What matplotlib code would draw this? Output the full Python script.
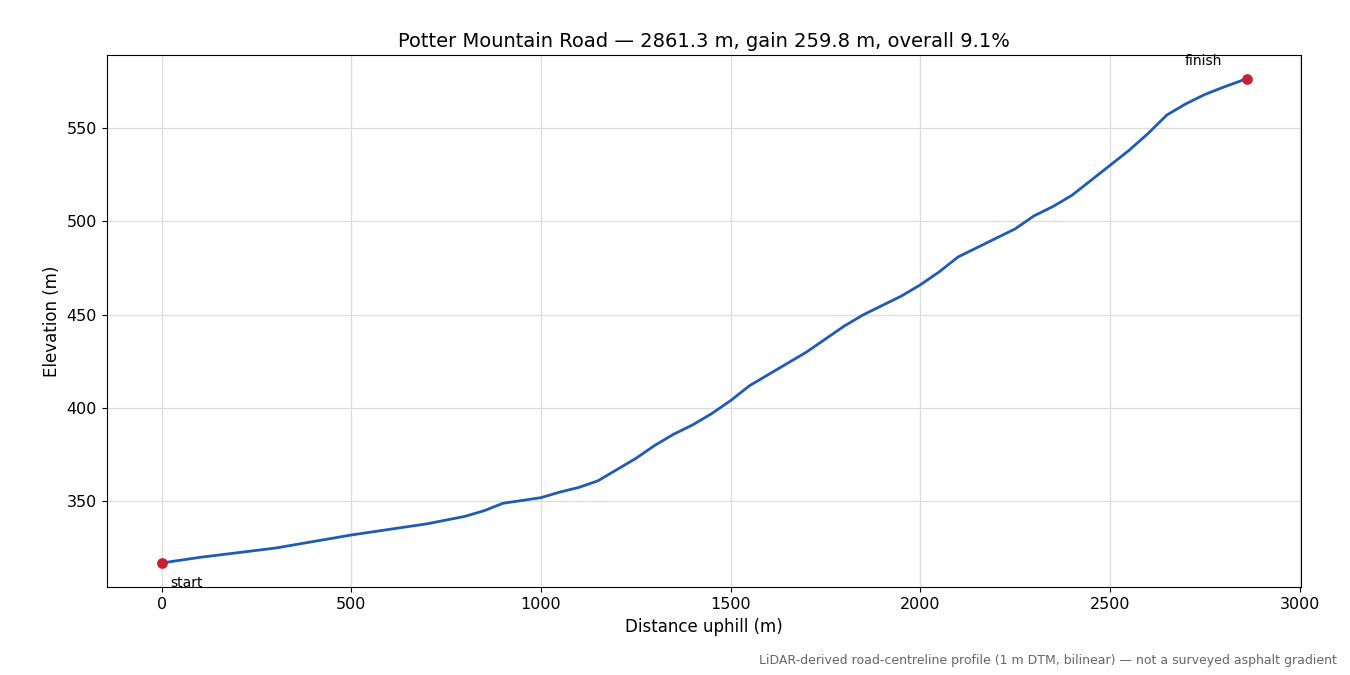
import matplotlib.pyplot as plt
import numpy as np

# profile
dist = [0, 100, 200, 300, 400, 500, 600, 700, 800, 850, 900, 950, 1000, 1050,
        1100, 1150, 1200, 1250, 1300, 1350, 1400, 1450, 1500, 1550, 1600, 1650,
        1700, 1750, 1800, 1850, 1900, 1950, 2000, 2050, 2100, 2150, 2200, 2250,
        2300, 2350, 2400, 2450, 2500, 2550, 2600, 2650, 2700, 2750, 2800, 2861.3]
elev = [317, 320, 322.5, 325, 328.5, 332, 335, 338, 342, 345, 349, 350.5, 352, 355,
        357.5, 361, 367, 373, 380, 386, 391, 397, 404, 412, 418, 424,
        430, 437, 444, 450, 455, 460, 466, 473, 481, 486, 491, 496,
        503, 508, 514, 522, 530, 538, 547, 557, 563, 568, 572, 576.5]

fig, ax = plt.subplots(figsize=(13.5, 6.75), dpi=100)
fig.subplots_adjust(left=0.079, right=0.964, top=0.918, bottom=0.13)

ax.plot(dist, elev, color='#1f5bb5', lw=2)
ax.scatter([dist[0], dist[-1]], [elev[0], elev[-1]], color='#c8202f', s=45, zorder=3)
ax.annotate('start', (dist[0], elev[0]), xytext=(6, -17), textcoords='offset points', fontsize=10)
ax.annotate('finish', (dist[-1], elev[-1]), xytext=(-45, 10), textcoords='offset points', fontsize=10)

ax.set_xlim(-145, 3005)
ax.set_ylim(304, 589)
ax.grid(True, color='#dcdcdc', lw=0.9)
ax.tick_params(labelsize=11.5)
ax.set_xlabel('Distance uphill (m)', fontsize=12)
ax.set_ylabel('Elevation (m)', fontsize=12)
ax.set_title('Potter Mountain Road — 2861.3 m, gain 259.8 m, overall 9.1%', fontsize=14)

fig.text(0.99, 0.012, 'LiDAR-derived road-centreline profile (1 m DTM, bilinear) — not a surveyed asphalt gradient',
         ha='right', va='bottom', fontsize=9, color='#666666')

plt.savefig('out.png')
